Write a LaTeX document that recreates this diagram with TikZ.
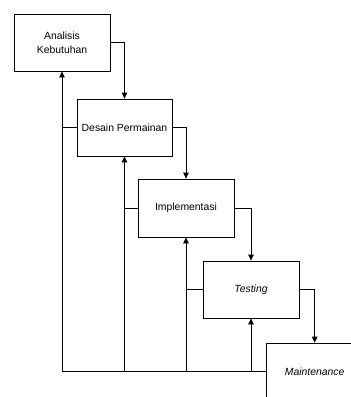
\documentclass[tikz,border=0pt]{standalone}
\usepackage{fontspec}
\setmainfont{Liberation Sans}
\usetikzlibrary{arrows.meta}
\begin{document}
\begin{tikzpicture}[x=1pt,y=-1pt,
  box/.style={draw,line width=0.8pt,rectangle,minimum width=96pt,minimum height=57pt,inner sep=0pt,align=center,font=\fontsize{10.4}{13.8}\selectfont},
  conn/.style={line width=0.8pt},
  arr/.style={conn,-{Triangle[length=6pt,width=5.5pt]}}]
\useasboundingbox (0,0) rectangle (351,397);
\clip (0,0) rectangle (351,397);
\node[box] (b1) at (62,42.5) {Analisis\\Kebutuhan};
\node[box,minimum width=95pt] (b2) at (124.5,127.5) {Desain Permainan};
\node[box,minimum height=58pt] (b3) at (186,208) {Implementasi};
\node[box] (b4) at (251,289.5) {\itshape Testing};
\node[box] (b5) at (314.7,371.5) {\itshape Maintenance};
\draw[arr] (b1.east) -| (b2.north);
\draw[arr] (b2.east) -| (b3.north);
\draw[arr] (b3.east) -| (b4.north);
\draw[arr] (b4.east) -| (b5.north);
\draw[arr] (b5.west) -- (b1.south |- b5.west) -- (b1.south);
\draw[arr] (b2.south |- b5.west) -- (b2.south);
\draw[arr] (b3.south |- b5.west) -- (b3.south);
\draw[arr] (b4.south |- b5.west) -- (b4.south);
\draw[conn] (b1.south |- b2.west) -- (b2.west);
\draw[conn] (b2.south |- b3.west) -- (b3.west);
\draw[conn] (b3.south |- b4.west) -- (b4.west);
\end{tikzpicture}
\end{document}
